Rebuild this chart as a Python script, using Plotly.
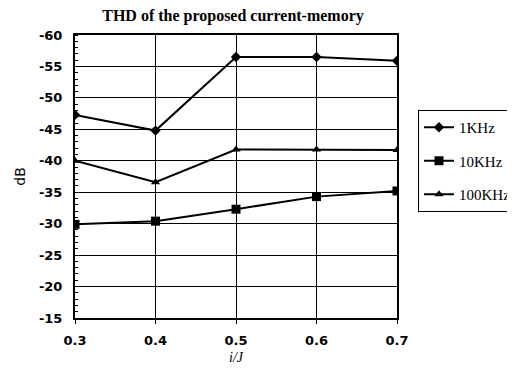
import plotly.graph_objects as go

x_vals = [0.3, 0.4, 0.5, 0.6, 0.7]
x_tick_labels = ["0.3", "0.4", "0.5", "0.6", "0.7"]
y_ticks = [-60, -55, -50, -45, -40, -35, -30, -25, -20, -15]
y_tick_labels = ["-60", "-55", "-50", "-45", "-40", "-35", "-30", "-25", "-20", "-15"]

series_names = ["1KHz", "10KHz", "100KHz"]
thd_1k = [-47.3, -44.8, -56.5, -56.5, -55.9]
thd_10k = [-29.9, -30.4, -32.3, -34.3, -35.2]
thd_100k = [-40.0, -36.6, -41.8, -41.8, -41.7]

series_values = [thd_1k, thd_10k, thd_100k]
symbols = ["diamond", "square", "triangle-up"]
sizes = [8, 9, 8]

W, H = 507, 362  # page body has an 8px margin

fig = go.Figure()
for i, (name, vals) in enumerate(zip(series_names, series_values)):
    fig.add_trace(go.Scatter(
        x=x_vals, y=vals, name=name, mode="lines+markers",
        line=dict(color="black", width=2),
        marker=dict(symbol=symbols[i], size=sizes[i], color="black"),
        legendgroup=name,
    ))

fig.update_layout(
    width=W, height=H,
    margin=dict(l=67, r=118, t=27, b=52, autoexpand=False),
    paper_bgcolor="white", plot_bgcolor="white",
    title=dict(text="<b>THD of the proposed current-memory</b>",
               x=225 / W, xanchor="center", y=1 - 7 / H, yanchor="middle",
               font=dict(family="Liberation Serif", size=16, color="black")),
    legend=dict(xref="container", yref="container", x=410 / W, y=1 - 102 / H,
                xanchor="left", yanchor="top",
                bordercolor="black", borderwidth=1, bgcolor="white",
                font=dict(family="Liberation Serif", size=15, color="black"),
                tracegroupgap=11, itemwidth=30),
    font=dict(family="DejaVu Sans", color="black"),
)

fig.update_xaxes(
    range=[0.3, 0.7], tickvals=x_vals, ticktext=x_tick_labels,
    showgrid=True, gridcolor="black", gridwidth=1,
    showline=True, linecolor="black", linewidth=2, mirror=True,
    ticks="outside", ticklen=4, tickcolor="black", ticklabelstandoff=5,
    tickfont=dict(family="DejaVu Sans", size=13, color="black", weight="bold"),
    title=dict(text="<i>i/J</i>", font=dict(family="Liberation Serif", size=14, color="black"), standoff=6),
    zeroline=False, automargin=False,
)
fig.update_yaxes(
    range=[-15, -60], tickvals=y_ticks, ticktext=y_tick_labels,
    showgrid=True, gridcolor="black", gridwidth=1,
    showline=True, linecolor="black", linewidth=2, mirror=True,
    ticks="", ticklabelstandoff=8,
    tickfont=dict(family="DejaVu Sans", size=13, color="black", weight="bold"),
    minor=dict(ticks="inside", ticklen=3, tickcolor="black", dtick=1, showgrid=False),
    title=dict(text="dB", font=dict(family="DejaVu Sans", size=14, color="black"), standoff=10),
    zeroline=False, automargin=False,
)

fig.write_html("out.html")
